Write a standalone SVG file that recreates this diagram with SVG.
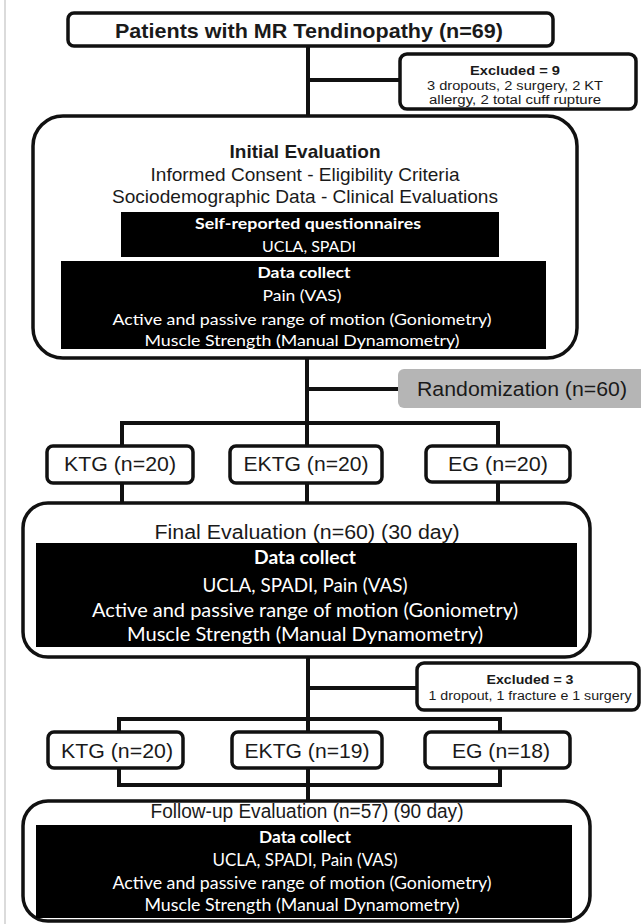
<svg xmlns="http://www.w3.org/2000/svg" width="641" height="924" viewBox="0 0 641 924">
<style>
.box{fill:#fff;stroke:#111;stroke-width:3.5}
.blk{fill:#000}
.conn{stroke:#111;stroke-width:4;fill:none}
.h{font-family:"Liberation Sans",Arial,sans-serif;fill:#1a1a1a;text-anchor:middle}
.b{font-weight:bold}
.w{font-family:Lato,"Open Sans",sans-serif;fill:#fff;text-anchor:middle}
</style>
<rect width="641" height="924" fill="#fff"/>
<line x1="5" y1="0" x2="5" y2="924" stroke="#cfcfcf" stroke-width="1.5"/>
<g id="connectors">
  <line class="conn" x1="308" y1="46" x2="308" y2="116"/>
  <line class="conn" x1="308" y1="80" x2="400" y2="80"/>
  <line class="conn" x1="307" y1="358" x2="307" y2="446"/>
  <line class="conn" x1="307" y1="389" x2="398" y2="389"/>
  <polyline class="conn" points="122,446 122,423 498,423 498,446"/>
  <line class="conn" x1="122" y1="483" x2="122" y2="503"/>
  <line class="conn" x1="307" y1="483" x2="307" y2="503"/>
  <line class="conn" x1="498" y1="483" x2="498" y2="503"/>
  <line class="conn" x1="308" y1="657" x2="308" y2="800"/>
  <line class="conn" x1="308" y1="688" x2="417" y2="688"/>
  <rect class="conn" x="119" y="719" width="381" height="66"/>
</g>
<g id="patients">
  <rect class="box" x="68" y="13" width="485" height="33" rx="6"/>
  <text class="h b" x="309" y="38" font-size="21" textLength="388" lengthAdjust="spacingAndGlyphs">Patients with MR Tendinopathy (n=69)</text>
</g>
<g id="excluded1">
  <rect class="box" x="400" y="54" width="236" height="55" rx="7"/>
  <text class="h b" x="515" y="75" font-size="13" textLength="90" lengthAdjust="spacingAndGlyphs">Excluded = 9</text>
  <text class="h" x="515" y="90" font-size="12.5" textLength="176" lengthAdjust="spacingAndGlyphs">3 dropouts, 2 surgery, 2 KT</text>
  <text class="h" x="515" y="104" font-size="12.5" textLength="172" lengthAdjust="spacingAndGlyphs">allergy, 2 total cuff rupture</text>
</g>
<g id="initial">
  <rect class="box" x="33" y="116" width="544" height="242" rx="30"/>
  <text class="h b" x="305" y="158" font-size="18.5" textLength="151" lengthAdjust="spacingAndGlyphs">Initial Evaluation</text>
  <text class="h" x="305" y="181" font-size="18.5" textLength="309" lengthAdjust="spacingAndGlyphs">Informed Consent - Eligibility Criteria</text>
  <text class="h" x="305" y="203" font-size="18.5" textLength="386" lengthAdjust="spacingAndGlyphs">Sociodemographic Data - Clinical Evaluations</text>
  <rect class="blk" x="121" y="212" width="378" height="45"/>
  <text class="w b" x="308" y="229" font-size="16" textLength="226" lengthAdjust="spacingAndGlyphs">Self-reported questionnaires</text>
  <text class="w" x="309" y="252" font-size="16" textLength="94" lengthAdjust="spacingAndGlyphs">UCLA, SPADI</text>
  <rect class="blk" x="61" y="261" width="485" height="88"/>
  <text class="w b" x="304" y="278" font-size="16" textLength="93" lengthAdjust="spacingAndGlyphs">Data collect</text>
  <text class="w" x="302" y="301" font-size="16" textLength="79" lengthAdjust="spacingAndGlyphs">Pain (VAS)</text>
  <text class="w" x="302" y="325" font-size="16" textLength="379" lengthAdjust="spacingAndGlyphs">Active and passive range of motion (Goniometry)</text>
  <text class="w" x="302" y="346" font-size="16" textLength="315" lengthAdjust="spacingAndGlyphs">Muscle Strength (Manual Dynamometry)</text>
</g>
<g id="randomization">
  <rect x="398" y="369" width="250" height="39" rx="6" fill="#b5b5b5"/>
  <text class="h" x="522" y="396" font-size="20.5" textLength="210" lengthAdjust="spacingAndGlyphs">Randomization (n=60)</text>
</g>
<g id="ktg1">
  <rect class="box" x="47" y="446" width="146" height="37" rx="6"/>
  <text class="h" x="120" y="471" font-size="20.5" textLength="112" lengthAdjust="spacingAndGlyphs">KTG (n=20)</text>
</g>
<g id="ektg1">
  <rect class="box" x="230" y="446" width="152" height="37" rx="6"/>
  <text class="h" x="306" y="471" font-size="20.5" textLength="125" lengthAdjust="spacingAndGlyphs">EKTG (n=20)</text>
</g>
<g id="eg1">
  <rect class="box" x="426" y="446" width="144" height="36" rx="6"/>
  <text class="h" x="498" y="471" font-size="20.5" textLength="100" lengthAdjust="spacingAndGlyphs">EG (n=20)</text>
</g>
<g id="final">
  <rect class="box" x="23" y="503" width="567" height="154" rx="25"/>
  <text class="h" x="307" y="539" font-size="20" textLength="305" lengthAdjust="spacingAndGlyphs">Final Evaluation (n=60) (30 day)</text>
  <rect class="blk" x="36" y="543" width="541" height="104"/>
  <text class="w b" x="305" y="564" font-size="19" textLength="102" lengthAdjust="spacingAndGlyphs">Data collect</text>
  <text class="w" x="305" y="592" font-size="19" textLength="205" lengthAdjust="spacingAndGlyphs">UCLA, SPADI, Pain (VAS)</text>
  <text class="w" x="305" y="617" font-size="19" textLength="426" lengthAdjust="spacingAndGlyphs">Active and passive range of motion (Goniometry)</text>
  <text class="w" x="305" y="641" font-size="19" textLength="356" lengthAdjust="spacingAndGlyphs">Muscle Strength (Manual Dynamometry)</text>
</g>
<g id="excluded2">
  <rect class="box" x="417" y="663" width="222" height="47" rx="7"/>
  <text class="h b" x="530" y="684" font-size="12.5" textLength="87" lengthAdjust="spacingAndGlyphs">Excluded = 3</text>
  <text class="h" x="530" y="700" font-size="12.5" textLength="203" lengthAdjust="spacingAndGlyphs">1 dropout, 1 fracture e 1 surgery</text>
</g>
<g id="ktg2">
  <rect class="box" x="48" y="732" width="135" height="36" rx="6"/>
  <text class="h" x="117" y="758" font-size="20.5" textLength="112" lengthAdjust="spacingAndGlyphs">KTG (n=20)</text>
</g>
<g id="ektg2">
  <rect class="box" x="232" y="732" width="150" height="36" rx="6"/>
  <text class="h" x="307" y="758" font-size="20.5" textLength="125" lengthAdjust="spacingAndGlyphs">EKTG (n=19)</text>
</g>
<g id="eg2">
  <rect class="box" x="425" y="732" width="145" height="36" rx="6"/>
  <text class="h" x="501" y="758" font-size="20.5" textLength="98" lengthAdjust="spacingAndGlyphs">EG (n=18)</text>
</g>
<g id="followup">
  <rect class="box" x="23" y="801" width="567" height="120" rx="25"/>
  <text class="h" x="307" y="818" font-size="20" textLength="313" lengthAdjust="spacingAndGlyphs">Follow-up Evaluation (n=57) (90 day)</text>
  <rect class="blk" x="36" y="825" width="536" height="93"/>
  <text class="w b" x="305" y="843" font-size="17" textLength="92" lengthAdjust="spacingAndGlyphs">Data collect</text>
  <text class="w" x="305" y="866" font-size="17" textLength="185" lengthAdjust="spacingAndGlyphs">UCLA, SPADI, Pain (VAS)</text>
  <text class="w" x="302" y="889" font-size="17" textLength="379" lengthAdjust="spacingAndGlyphs">Active and passive range of motion (Goniometry)</text>
  <text class="w" x="302" y="911" font-size="17" textLength="315" lengthAdjust="spacingAndGlyphs">Muscle Strength (Manual Dynamometry)</text>
</g>
</svg>
